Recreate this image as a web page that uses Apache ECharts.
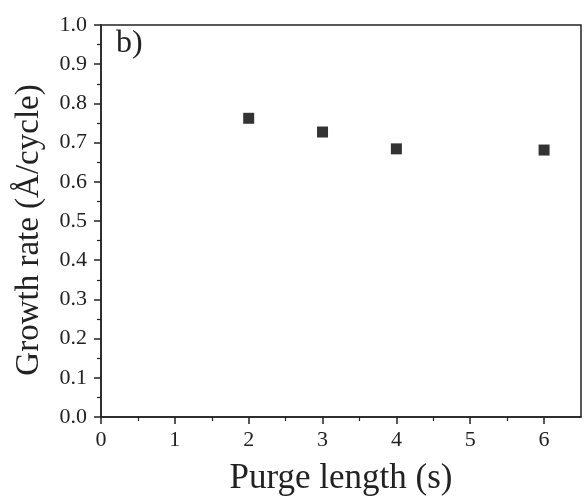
<!DOCTYPE html>
<html>
<head>
<meta charset="utf-8">
<script src="https://cdn.jsdelivr.net/npm/echarts@6/dist/echarts.min.js"></script>
<style>
  html, body { margin: 0; padding: 0; background: #fff; }
  #chart { width: 588px; height: 497px; }
</style>
</head>
<body>
<div id="chart"></div>
<script>
// purge length (s) vs growth rate (Å/cycle)
const purgeLength = [2, 3, 4, 6]
const growthRate = [0.762, 0.727, 0.684, 0.681]
const xTicks = [0, 1, 2, 3, 4, 5, 6]

const font = 'Liberation Serif'
const chart = echarts.init(document.getElementById('chart'))

chart.setOption({
  animation: false,
  grid: {
    left: 101,
    right: 7,
    top: 25,
    bottom: 80,
    outerBoundsMode: 'none',
    show: true,
    borderColor: '#222',
    borderWidth: 1.5
  },
  graphic: [{
    type: 'text',
    left: 116,
    top: 28,
    style: { text: 'b)', font: '32px "Liberation Serif"', fill: '#222' }
  }],
  xAxis: {
    type: 'value',
    min: 0,
    max: 6.5,
    interval: 1,
    name: 'Purge length (s)',
    nameLocation: 'middle',
    nameGap: 44,
    nameTextStyle: { fontFamily: font, fontSize: 35, color: '#222' },
    axisLine: { show: true, lineStyle: { color: '#222', width: 1.5 } },
    axisTick: { show: true, inside: false, length: 7, customValues: xTicks, lineStyle: { color: '#222', width: 1.5 } },
    minorTick: { show: true, splitNumber: 2, length: 4, lineStyle: { color: '#222', width: 1.2 } },
    axisLabel: { customValues: xTicks, margin: 12, fontFamily: font, fontSize: 22, color: '#222' },
    splitLine: { show: false }
  },
  yAxis: {
    type: 'value',
    min: 0,
    max: 1,
    interval: 0.1,
    name: 'Growth rate (Å/cycle)',
    nameLocation: 'middle',
    nameGap: 55,
    nameTextStyle: { fontFamily: font, fontSize: 33, color: '#222', padding: [0, 18, 0, 0] },
    axisLine: { show: true, lineStyle: { color: '#222', width: 1.5 } },
    axisTick: { show: true, inside: false, length: 7, lineStyle: { color: '#222', width: 1.5 } },
    minorTick: { show: true, splitNumber: 2, length: 4, lineStyle: { color: '#222', width: 1.2 } },
    axisLabel: {
      margin: 14,
      fontFamily: font,
      fontSize: 22,
      color: '#222',
      formatter: v => v.toFixed(1)
    },
    splitLine: { show: false }
  },
  series: [{
    type: 'scatter',
    symbol: 'rect',
    symbolSize: 11,
    itemStyle: { color: '#000' },
    data: purgeLength.map((x, i) => [x, growthRate[i]])
  }]
})
</script>
</body>
</html>
